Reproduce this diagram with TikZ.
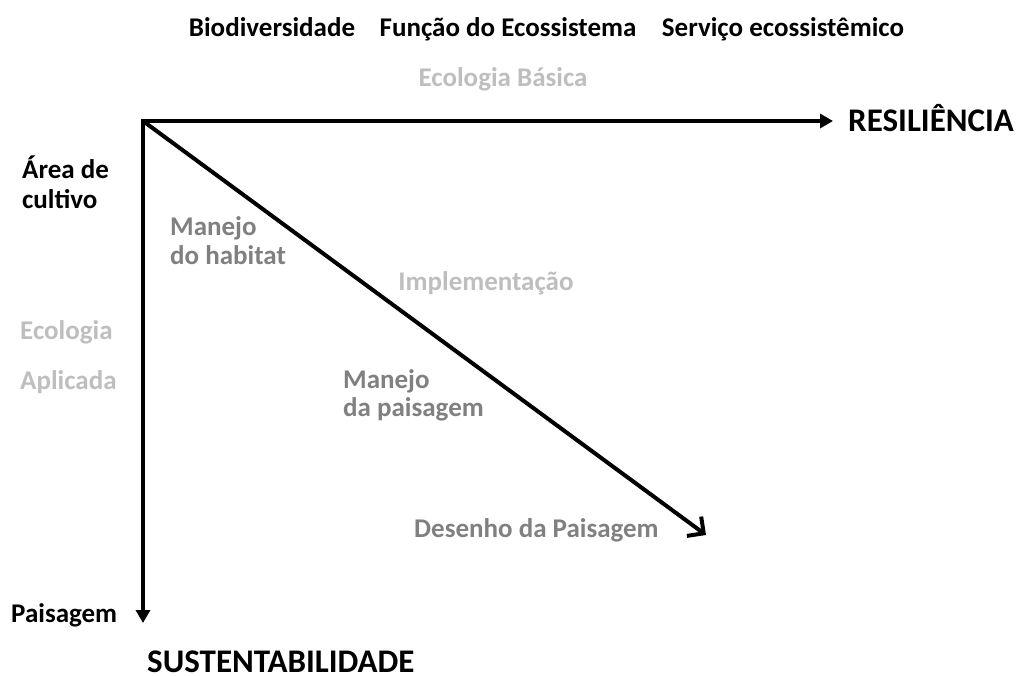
\documentclass[tikz,border=0pt]{standalone}
\usepackage{fontspec}
\setmainfont{Carlito}
\usetikzlibrary{arrows.meta}
\definecolor{lightg}{RGB}{190,190,190}
\definecolor{darkg}{RGB}{128,128,128}
\tikzset{
  lbl/.style={font=\fontsize{27}{32}\selectfont\bfseries, inner sep=0pt, text height=0.7em, text depth=0.2em},
  big/.style={font=\fontsize{33}{40}\selectfont\bfseries, inner sep=0pt, text height=0.7em, text depth=0.2em},
  bigb/.style={font=\fontsize{33}{40}\selectfont\bfseries, inner sep=0pt, text depth=0pt},
  axis/.style={line width=4pt, -{Triangle[length=13pt,width=14pt]}},
  diag/.style={line width=4pt, -{Straight Barb[length=12pt,width=24pt,line width=4pt]}}
}
\begin{document}
\begin{tikzpicture}[x=1pt,y=-1pt]
\useasboundingbox (0,0) rectangle (1023,675);
\coordinate (o) at (143,121);
\coordinate (r) at (833,121);
\coordinate (s) at (143,623);
\coordinate (d) at (706,535);
\draw[axis] ([xshift=-2pt]o) -- (r);
\draw[axis] ([yshift=-2pt]o) -- (s);
\draw[diag] (o) -- (d);
\node[lbl] (bio) at (272,34) {Biodiversidade};
\node[lbl] (fun) at (508,34) {Função do Ecossistema};
\node[lbl] (ser) at (783,34) {Serviço ecossistêmico};
\node[lbl, text=lightg] (eb) at (503,84) {Ecologia Básica};
\node[big, anchor=west] (res) at (848,129) {RESILIÊNCIA};
\node[lbl, anchor=west] (ar1) at (22,176) {Área de};
\node[lbl, anchor=west] (ar2) at (22,206) {cultivo};
\node[lbl, anchor=west, text=darkg] (mh1) at (170,233) {Manejo};
\node[lbl, anchor=west, text=darkg] (mh2) at (170,262) {do habitat};
\node[lbl, text=lightg] (imp) at (486,288) {Implementação};
\node[lbl, anchor=west, text=lightg] (ea1) at (20,337) {Ecologia};
\node[lbl, anchor=west, text=lightg] (ea2) at (20,387) {Aplicada};
\node[lbl, anchor=west, text=darkg] (mp1) at (343,386) {Manejo};
\node[lbl, anchor=west, text=darkg] (mp2) at (343,414) {da paisagem};
\node[lbl, anchor=west, text=darkg] (dp) at (414,535) {Desenho da Paisagem};
\node[lbl, anchor=west] (pa) at (11,620) {Paisagem};
\node[bigb, anchor=base west] (sus) at (147,672) {SUSTENTABILIDADE};
\end{tikzpicture}
\end{document}
